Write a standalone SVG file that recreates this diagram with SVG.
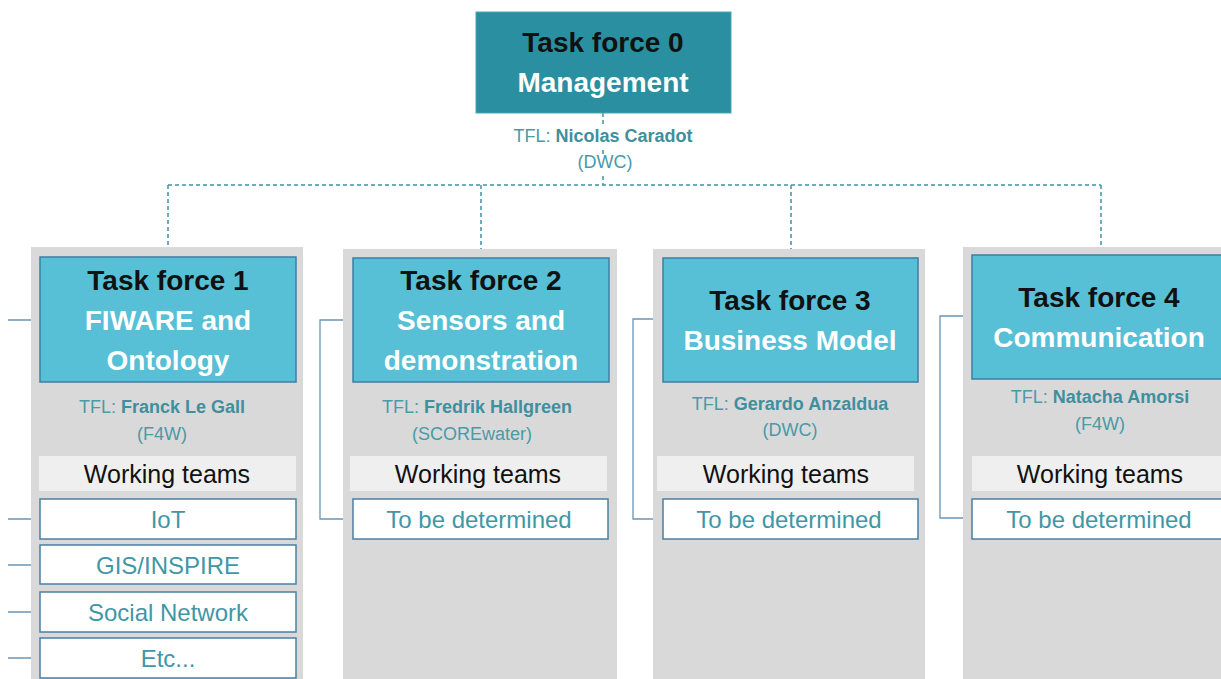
<svg xmlns="http://www.w3.org/2000/svg" width="1221" height="679" viewBox="0 0 1221 679">
<style>
text{font-family:"Liberation Sans",Arial,sans-serif;text-anchor:middle}
.panel{fill:#d9d9d9}
.hdr{fill:#57bfd6;stroke:#3c7fa3;stroke-width:1.5}
.top{fill:#2a8fa0;stroke:#4aa7b6;stroke-width:1}
.t1{font-weight:bold;font-size:28px;fill:#111}
.t2{font-weight:bold;font-size:28px;fill:#fff}
.tfl{font-size:18px;fill:#4a9aa8}
.tfl tspan.b{font-weight:bold;fill:#3f8f9e}
.band{fill:#efefef}
.wt{font-size:25px;fill:#111}
.item{fill:#fff;stroke:#4a7fa3;stroke-width:1.5}
.it{font-size:24px;fill:#3f97a6}
.dash{fill:none;stroke:#3f94a6;stroke-width:1.5;stroke-dasharray:4 3}
.solid{fill:none;stroke:#6a95b8;stroke-width:1.3}
</style>
<rect width="1221" height="679" fill="#fff"/>
<g id="connectors">
<path class="dash" d="M603 113V124M603 150V155M603 176V185M168 185H1101M168 185V257M481 185V257M791 185V257M1101 185V254"/>
<path class="solid" d="M8 320H40M8 519H40M8 565H40M8 612H40M8 658H40"/>
<path class="solid" d="M353 320H320V519H353"/>
<path class="solid" d="M663 319H633V519H663"/>
<path class="solid" d="M972 316H940V518H972"/>
</g>
<g id="tf0">
<rect class="top" x="476" y="12" width="255" height="101"/>
<text class="t1" x="603" y="52">Task force 0</text>
<text class="t2" x="603" y="92" font-size="31">Management</text>
<text class="tfl" x="603" y="142">TFL: <tspan class="b">Nicolas Caradot</tspan></text>
<text class="tfl" x="605" y="168">(DWC)</text>
</g>
<g id="tf1">
<rect class="panel" x="31" y="247" width="272" height="432"/>
<rect class="hdr" x="40" y="257" width="256" height="125"/>
<text class="t1" x="168" y="290">Task force 1</text>
<text class="t2" x="168" y="330">FIWARE and</text>
<text class="t2" x="168" y="370">Ontology</text>
<text class="tfl" x="162" y="413">TFL: <tspan class="b">Franck Le Gall</tspan></text>
<text class="tfl" x="162" y="440">(F4W)</text>
<rect class="band" x="39" y="456" width="257" height="35"/>
<text class="wt" x="167" y="483">Working teams</text>
</g>
<g id="wt-iot"><rect class="item" x="40" y="499" width="256" height="40"/><text class="it" x="168" y="528">IoT</text></g>
<g id="wt-gis"><rect class="item" x="40" y="545" width="256" height="39"/><text class="it" x="168" y="574">GIS/INSPIRE</text></g>
<g id="wt-social"><rect class="item" x="40" y="592" width="256" height="40"/><text class="it" x="168" y="621">Social Network</text></g>
<g id="wt-etc"><rect class="item" x="40" y="638" width="256" height="40"/><text class="it" x="168" y="667">Etc...</text></g>
<g id="tf2">
<rect class="panel" x="343" y="249" width="274" height="430"/>
<rect class="hdr" x="353" y="258" width="256" height="124"/>
<text class="t1" x="481" y="290">Task force 2</text>
<text class="t2" x="481" y="330">Sensors and</text>
<text class="t2" x="481" y="370">demonstration</text>
<text class="tfl" x="477" y="413">TFL: <tspan class="b">Fredrik Hallgreen</tspan></text>
<text class="tfl" x="472" y="440">(SCOREwater)</text>
<rect class="band" x="350" y="456" width="257" height="35"/>
<text class="wt" x="478" y="483">Working teams</text>
<rect class="item" x="353" y="499" width="255" height="40"/>
<text class="it" x="479" y="528">To be determined</text>
</g>
<g id="tf3">
<rect class="panel" x="653" y="249" width="272" height="430"/>
<rect class="hdr" x="663" y="258" width="255" height="124"/>
<text class="t1" x="790" y="310">Task force 3</text>
<text class="t2" x="790" y="350">Business Model</text>
<text class="tfl" x="790" y="410">TFL: <tspan class="b">Gerardo Anzaldua</tspan></text>
<text class="tfl" x="790" y="436">(DWC)</text>
<rect class="band" x="657" y="456" width="257" height="35"/>
<text class="wt" x="786" y="483">Working teams</text>
<rect class="item" x="663" y="499" width="255" height="40"/>
<text class="it" x="789" y="528">To be determined</text>
</g>
<g id="tf4">
<rect class="panel" x="963" y="247" width="260" height="432"/>
<rect class="hdr" x="972" y="255" width="252" height="124"/>
<text class="t1" x="1099" y="307">Task force 4</text>
<text class="t2" x="1099" y="347">Communication</text>
<text class="tfl" x="1100" y="403">TFL: <tspan class="b">Natacha Amorsi</tspan></text>
<text class="tfl" x="1100" y="430">(F4W)</text>
<rect class="band" x="972" y="456" width="252" height="35"/>
<text class="wt" x="1100" y="483">Working teams</text>
<rect class="item" x="972" y="499" width="252" height="40"/>
<text class="it" x="1099" y="528">To be determined</text>
</g>
</svg>
